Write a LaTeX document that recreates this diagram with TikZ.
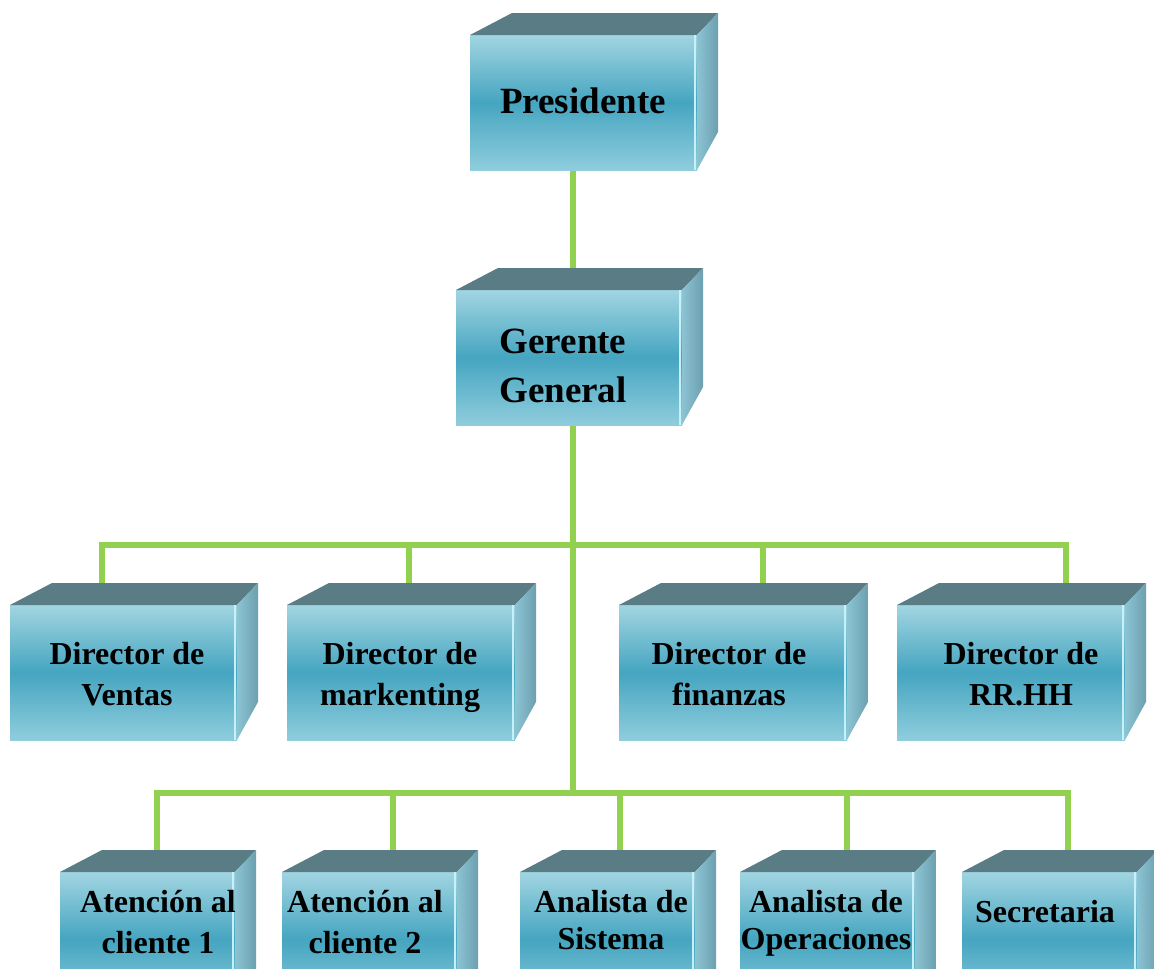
\documentclass[tikz,border=0pt]{standalone}
\usepackage{fontspec}
\setmainfont{Liberation Serif}
\usetikzlibrary{backgrounds,calc}
\definecolor{conn}{HTML}{92D050}
\definecolor{ftop}{HTML}{A2D5E2}
\definecolor{fmid}{HTML}{45A5C0}
\definecolor{fbot}{HTML}{8FCDDD}
\definecolor{topf}{HTML}{5A7D85}
\definecolor{sidel}{HTML}{8CC4D3}
\definecolor{sider}{HTML}{6C9FAF}
\definecolor{edgec}{HTML}{C8F0F8}
\tikzset{
  face/.style={inner sep=0pt, outer sep=0pt, top color=ftop, bottom color=fbot, middle color=fmid, draw=none},
  big/.style={font=\bfseries\fontsize{37}{49}\selectfont, align=center, inner sep=0pt},
  mid/.style={font=\bfseries\fontsize{32}{41}\selectfont, align=center, inner sep=0pt},
  tight/.style={font=\bfseries\fontsize{32}{37}\selectfont, align=center, inner sep=0pt},
  link/.style={draw=conn, line width=6pt},
}
\newcommand\cubefaces[1]{%
  \fill[topf] (#1.north west) -- ($(#1.north west)+(42,-22)$) -- ($(#1.north east)+(21,-22)$) -- (#1.north east) -- cycle;
  \shade[left color=sidel, right color=sider] (#1.north east) -- ($(#1.north east)+(21,-22)$) -- ($(#1.south east)+(21,-38)$) -- (#1.south east) -- cycle;
  \draw[edgec, line width=1.2pt] ($(#1.north east)+(-2,0)$) -- ($(#1.south east)+(-2,0)$);
}
\begin{document}
\begin{tikzpicture}[x=1pt,y=-1pt]
\useasboundingbox (0,0) rectangle (1154,969);
\clip (0,0) rectangle (1154,969);
% front faces
\node[face, minimum width=227, minimum height=135] (pres) at (583.5,102.5) {};
\node[face, minimum width=226, minimum height=135] (ger) at (569,357.5) {};
\node[face, minimum width=227, minimum height=135] (d1) at (123.5,672.5) {};
\node[face, minimum width=228, minimum height=135] (d2) at (401,672.5) {};
\node[face, minimum width=228, minimum height=135] (d3) at (733,672.5) {};
\node[face, minimum width=228, minimum height=135] (d4) at (1011,672.5) {};
\node[face, minimum width=175, minimum height=135] (a1) at (147.5,939.5) {};
\node[face, minimum width=175, minimum height=135] (a2) at (369.5,939.5) {};
\node[face, minimum width=175, minimum height=135] (a3) at (607.5,939.5) {};
\node[face, minimum width=175, minimum height=135] (a4) at (827.5,939.5) {};
\node[face, minimum width=175, minimum height=135] (a5) at (1049.5,939.5) {};
\foreach \n in {pres,ger,d1,d2,d3,d4,a1,a2,a3,a4,a5}{\cubefaces{\n}}
% texts
\node[big] (presT) at (583,101) {Presidente};
\node[big] (gerT) at (563,366) {Gerente\\General};
\node[mid] (d1T) at (127,674) {Director de\\Ventas};
\node[mid] (d2T) at (400,677.5) {Director de\\markenting};
\node[mid] (d3T) at (729,674) {Director de\\finanzas};
\node[mid] (d4T) at (1021,674) {Director de\\RR.HH};
\node[mid] (a1T) at (158,922) {Atención al\\cliente 1};
\node[mid] (a2T) at (365,922) {Atención al\\cliente 2};
\node[tight] (a3T) at (611,920) {Analista de\\Sistema};
\node[tight] (a4T) at (826,923.5) {Analista de\\Operaciones};
\node[mid] (a5T) at (1045,912) {Secretaria};
% connectors
\coordinate (trunk) at (573,0);
\coordinate (b1) at (0,545);
\coordinate (b2) at (0,793);
\coordinate (t1) at (102,0);
\coordinate (t2) at (409,0);
\coordinate (t3) at (763,0);
\coordinate (t4) at (1066,0);
\coordinate (s1) at (157,0);
\coordinate (s2) at (393,0);
\coordinate (s3) at (620,0);
\coordinate (s4) at (847,0);
\coordinate (s5) at (1068,0);
\begin{pgfonlayer}{background}
  \draw[link] (trunk |- pres.south) -- (trunk |- ger.north);
  \draw[link] (trunk |- ger.south) -- (trunk |- b2);
  \draw[link, line cap=rect] (t1 |- b1) -- (t4 |- b1);
  \draw[link, line cap=rect] (s1 |- b2) -- (s5 |- b2);
  \draw[link] (t1 |- b1) -- (t1 |- d1.north);
  \draw[link] (t2 |- b1) -- (t2 |- d2.north);
  \draw[link] (t3 |- b1) -- (t3 |- d3.north);
  \draw[link] (t4 |- b1) -- (t4 |- d4.north);
  \draw[link] (s1 |- b2) -- (s1 |- a1.north);
  \draw[link] (s2 |- b2) -- (s2 |- a2.north);
  \draw[link] (s3 |- b2) -- (s3 |- a3.north);
  \draw[link] (s4 |- b2) -- (s4 |- a4.north);
  \draw[link] (s5 |- b2) -- (s5 |- a5.north);
\end{pgfonlayer}
\end{tikzpicture}
\end{document}
